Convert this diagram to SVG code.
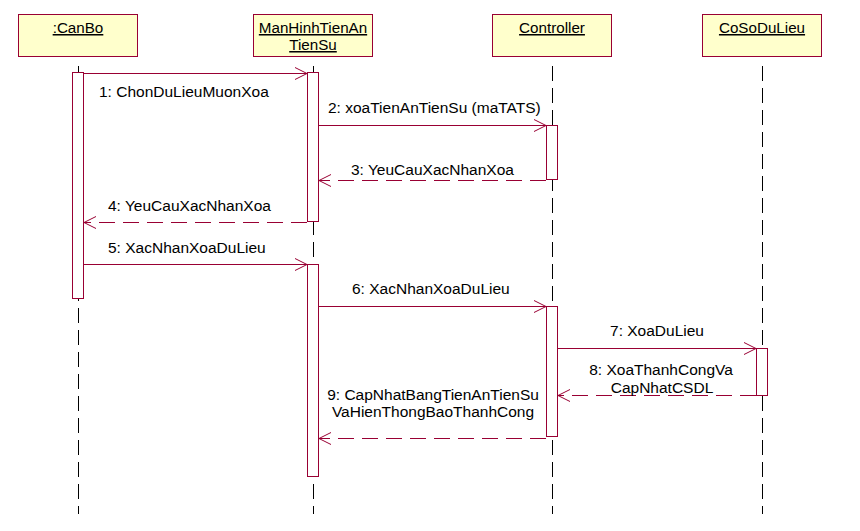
<svg xmlns="http://www.w3.org/2000/svg" width="860" height="531" viewBox="0 0 860 531">
<defs>
<style>
.box{fill:#FFFFCC;stroke:#990033;stroke-width:1}
.bar{fill:#FFFFFF;stroke:#990033;stroke-width:1}
.life{stroke:#000;stroke-width:1;stroke-dasharray:15 7;fill:none}
.msg{stroke:#990033;stroke-width:1;fill:none}
.ret{stroke:#990033;stroke-width:1;fill:none;stroke-dasharray:16 8}
text{font-family:"Liberation Sans",Arial,sans-serif;font-size:15.5px;fill:#000}
.name{text-decoration:underline;text-anchor:middle;font-size:15.2px}
.mid{text-anchor:middle}
</style>
<marker id="arr" markerUnits="userSpaceOnUse" markerWidth="14" markerHeight="14" viewBox="0 0 14 14" refX="13" refY="7" orient="auto">
<path d="M1,1 L13,7 L1,13" fill="none" stroke="#990033" stroke-width="1"/>
</marker>
</defs>
<rect width="860" height="531" fill="#FFFFFF"/>
<g id="lifelines">
<line class="life" x1="78.5" y1="66" x2="78.5" y2="514"/>
<line class="life" x1="313.5" y1="66" x2="313.5" y2="514"/>
<line class="life" x1="552.5" y1="66" x2="552.5" y2="514"/>
<line class="life" x1="762.5" y1="66" x2="762.5" y2="514"/>
</g>
<g id="CanBo">
<rect class="box" x="18.5" y="14.5" width="119" height="42"/>
<text class="name" x="78" y="33">:CanBo</text>
<rect class="bar" x="72.5" y="72.5" width="11" height="226"/>
</g>
<g id="ManHinhTienAnTienSu">
<rect class="box" x="253.5" y="14.5" width="119" height="42"/>
<text class="name" x="313" y="33">ManHinhTienAn</text>
<text class="name" x="313" y="50">TienSu</text>
<rect class="bar" x="307.5" y="72.5" width="11" height="149"/>
<rect class="bar" x="307.5" y="264.5" width="11" height="212"/>
</g>
<g id="Controller">
<rect class="box" x="492.5" y="14.5" width="119" height="42"/>
<text class="name" x="552" y="33">Controller</text>
<rect class="bar" x="546.5" y="125.5" width="11" height="54"/>
<rect class="bar" x="546.5" y="306.5" width="11" height="130"/>
</g>
<g id="CoSoDuLieu">
<rect class="box" x="702.5" y="14.5" width="119" height="42"/>
<text class="name" x="762" y="33">CoSoDuLieu</text>
<rect class="bar" x="756.5" y="348.5" width="11" height="47"/>
</g>
<g id="connectors">
<line class="msg" x1="84" y1="73.5" x2="307" y2="73.5" marker-end="url(#arr)"/>
<line class="msg" x1="319" y1="125.5" x2="546" y2="125.5" marker-end="url(#arr)"/>
<line class="ret" x1="546" y1="180.5" x2="319" y2="180.5" marker-end="url(#arr)"/>
<line class="ret" x1="307" y1="222.5" x2="84" y2="222.5" marker-end="url(#arr)"/>
<line class="msg" x1="84" y1="264.5" x2="307" y2="264.5" marker-end="url(#arr)"/>
<line class="msg" x1="319" y1="306.5" x2="546" y2="306.5" marker-end="url(#arr)"/>
<line class="msg" x1="557" y1="348.5" x2="756" y2="348.5" marker-end="url(#arr)"/>
<line class="ret" x1="756" y1="395.5" x2="558" y2="395.5" marker-end="url(#arr)"/>
<line class="ret" x1="546" y1="438.5" x2="319" y2="438.5" marker-end="url(#arr)"/>
</g>
<g id="labels">
<text x="99" y="97">1: ChonDuLieuMuonXoa</text>
<text x="328" y="113">2: xoaTienAnTienSu (maTATS)</text>
<text x="351" y="175">3: YeuCauXacNhanXoa</text>
<text x="108" y="211">4: YeuCauXacNhanXoa</text>
<text x="108" y="253">5: XacNhanXoaDuLieu</text>
<text x="352" y="294">6: XacNhanXoaDuLieu</text>
<text class="mid" x="657" y="336">7: XoaDuLieu</text>
<text class="mid" x="661" y="375">8: XoaThanhCongVa</text>
<text class="mid" x="662" y="393">CapNhatCSDL</text>
<text class="mid" x="433" y="400">9: CapNhatBangTienAnTienSu</text>
<text class="mid" x="433" y="417">VaHienThongBaoThanhCong</text>
</g>
</svg>
